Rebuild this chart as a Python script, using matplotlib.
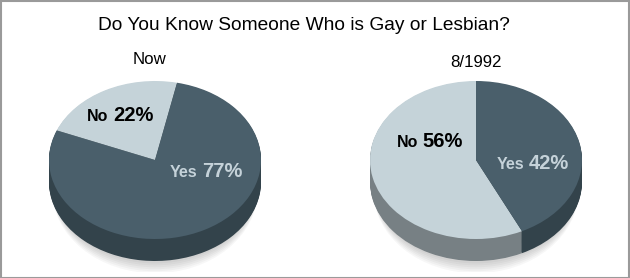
import numpy as np
import matplotlib
matplotlib.use('Agg')
import matplotlib.pyplot as plt
from matplotlib.transforms import offset_copy
from matplotlib.patches import Rectangle, Ellipse

plt.rcParams['font.family'] = ['Liberation Sans', 'DejaVu Sans']

# data
answers = ['No', 'Yes']
now_pct = [22, 77]
y1992_pct = [56, 42]
panel_titles = ['Now', '8/1992']
title = 'Do You Know Someone Who is Gay or Lesbian?'

# style
TOP_COLORS = ['#c5d3d9', '#4a5f6b']
SIDE_COLORS = ['#778084', '#33434b']
TEXT_COLORS = ['#000000', '#c5d2d9']

W, H = 630, 278
RX, RY = 106, 79        # ellipse radii in px
DEPTH = 22              # side thickness in px

fig = plt.figure(figsize=(W / 100, H / 100), dpi=100)


def pie3d(cx, cy, values, start, label_pos):
    # axes placed so that one data unit = RX px horizontally, RY px vertically
    ax = fig.add_axes([(cx - 140) / W, (H - (cy + 112)) / H, 280 / W, 200 / H])
    depth = DEPTH / RY
    # soft shadow under the pie
    for k in range(6):
        ax.add_patch(Ellipse((0, -depth - 0.03 - k * 0.015), 1.94, 2 + k * 0.02,
                             facecolor='#000000', alpha=0.03, linewidth=0, zorder=0))
    for d in np.linspace(depth, 0.01, 24):
        ax.pie(values, colors=SIDE_COLORS, startangle=start, center=(0, -d),
               wedgeprops=dict(linewidth=0))
    ax.pie(values, colors=TOP_COLORS, startangle=start, center=(0, 0),
           wedgeprops=dict(linewidth=0))
    ax.set_aspect('auto')
    ax.set_xlim(-140 / RX, 140 / RX)
    ax.set_ylim(-112 / RY, 88 / RY)
    ax.axis('off')

    for name, val, (lx, ly), col in zip(answers, values, label_pos, TEXT_COLORS):
        tl = offset_copy(ax.transData, fig=fig, x=-2, y=0, units='dots')
        tr = offset_copy(ax.transData, fig=fig, x=2.5, y=0, units='dots')
        ax.text(lx, ly, name, transform=tl, ha='right', va='baseline',
                fontsize=11.5, fontweight='bold', color=col)
        ax.text(lx, ly, f'{val}%', transform=tr, ha='left', va='baseline',
                fontsize=14.5, fontweight='bold', color=col)
    return ax


pie3d(155, 160, now_pct, 78, [(-0.42, 0.49), (0.42, -0.22)])
pie3d(476, 160, y1992_pct, 90, [(-0.53, 0.16), (0.47, -0.11)])

fig.text(303.5 / W, 1 - 30 / H, title, ha='center', va='baseline', fontsize=13.8)
fig.text(150 / W, 1 - 64 / H, panel_titles[0], ha='center', va='baseline', fontsize=12.2)
fig.text(476 / W, 1 - 67 / H, panel_titles[1], ha='center', va='baseline', fontsize=12.2)

fig.patches.append(Rectangle((0.5 / W, 0.5 / H), 1 - 1.5 / W, 1 - 1.5 / H,
                             transform=fig.transFigure, fill=False,
                             edgecolor='#9a9a9a', linewidth=1.5))

fig.savefig('out.png', dpi=100)
